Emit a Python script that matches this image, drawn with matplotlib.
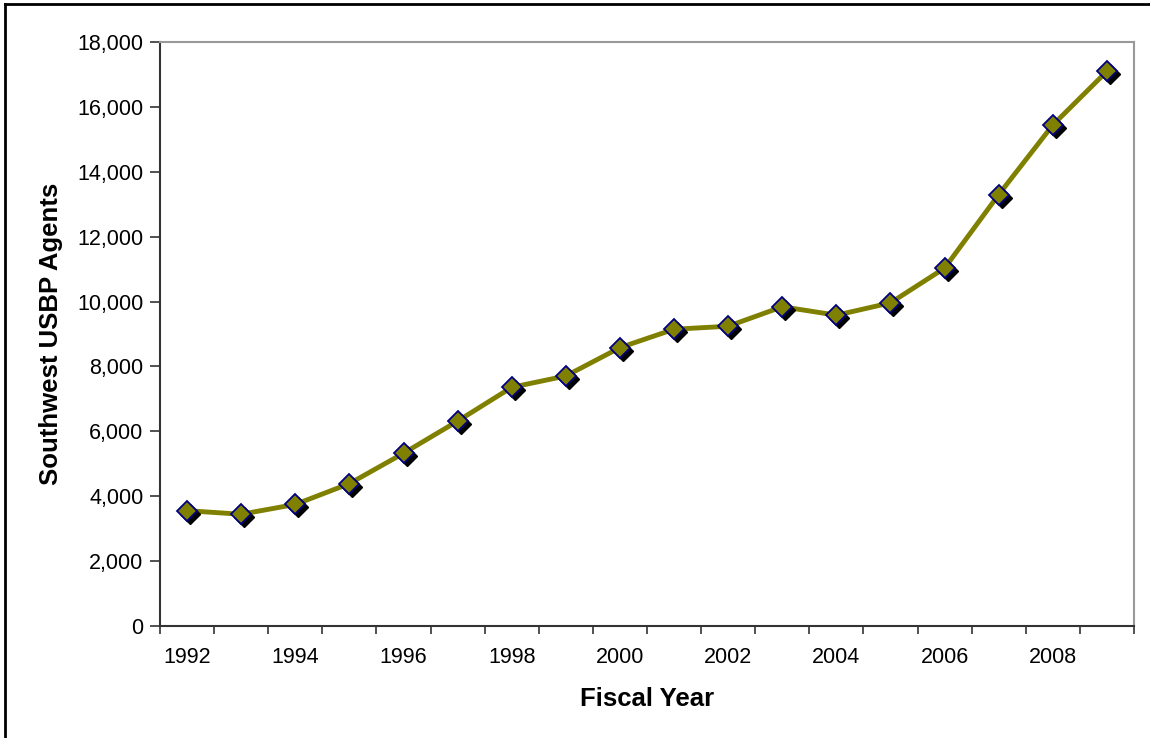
import numpy as np
import matplotlib
matplotlib.use("Agg")
import matplotlib.pyplot as plt
from matplotlib.transforms import offset_copy
from matplotlib.ticker import FuncFormatter, FixedLocator

years = list(range(1992, 2010))
agents = [3555, 3444, 3747, 4388, 5324, 6315, 7357, 7706, 8580, 9147,
          9239, 9840, 9580, 9960, 11032, 13297, 15442, 17099]
tick_years = [str(y) for y in years[::2]]

plt.rcParams["font.family"] = ["Liberation Sans", "DejaVu Sans"]

W, H = 1150, 738
fig = plt.figure(figsize=(W / 100, H / 100), dpi=100)

# outer frame (only left/top edges visible in the reference)
fig.add_artist(plt.Line2D([5 / W, 5 / W], [0, 1 - 4 / H], color="black", lw=2,
                          transform=fig.transFigure))
fig.add_artist(plt.Line2D([5 / W, 1], [1 - 4 / H, 1 - 4 / H], color="black", lw=2,
                          transform=fig.transFigure))

left, right, top, bottom = 160, 1134, 42, 626
ax = fig.add_axes([left / W, 1 - bottom / H, (right - left) / W, (bottom - top) / H])

x = np.arange(len(years))
olive = "#808000"
ax.plot(x, agents, color=olive, lw=3.5, zorder=3, solid_joinstyle="round")
shadow = offset_copy(ax.transData, fig=fig, x=3, y=-3, units="dots")
ax.plot(x, agents, ls="none", marker="D", ms=10, color="black", mec="black",
        transform=shadow, zorder=4)
ax.plot(x, agents, ls="none", marker="D", ms=10, color=olive, mec="#000080",
        mew=1.3, zorder=5)

ax.set_xlim(-0.5, len(years) - 0.5)
ax.set_ylim(0, 18000)
ax.set_yticks(np.arange(0, 18001, 2000))
ax.yaxis.set_major_formatter(FuncFormatter(lambda v, p: f"{int(v):,}"))

ax.xaxis.set_major_locator(FixedLocator(x[::2]))
ax.set_xticklabels(tick_years)
ax.xaxis.set_minor_locator(FixedLocator(np.arange(-0.5, len(years), 1.0)))
ax.tick_params(axis="x", which="major", length=0, pad=15, labelsize=15.5)
ax.tick_params(axis="x", which="minor", length=6, width=1.2, color="#333333")
ax.tick_params(axis="y", length=7, width=1.2, color="#333333", pad=5, labelsize=15.5)

for side in ["top", "right"]:
    ax.spines[side].set_color("#999999")
    ax.spines[side].set_linewidth(1.5)
for side in ["left", "bottom"]:
    ax.spines[side].set_color("#333333")
    ax.spines[side].set_linewidth(1.5)

ax.set_xlabel("Fiscal Year", fontsize=18.5, fontweight="bold", labelpad=14)
ax.set_ylabel("Southwest USBP Agents", fontsize=18.5, fontweight="bold", labelpad=10)

fig.savefig("out.png", dpi=100)
